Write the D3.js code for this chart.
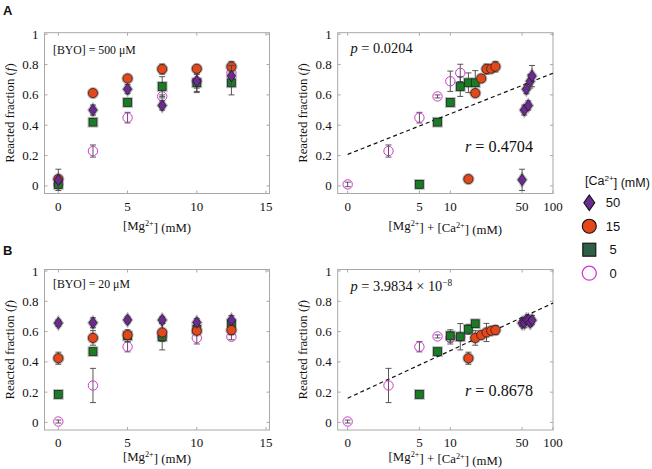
<html>
<head>
<script src="https://d3js.org/d3.v7.min.js"></script>
<style>
  body { margin: 0; background: #fff; }
  text { font-family: "Liberation Serif", "Times New Roman", serif; fill: #111; }
  .sans { font-family: "Liberation Sans", Arial, sans-serif; }
</style>
</head>
<body>
<svg id="MAINSVG" width="652" height="469" viewBox="0 0 652 469"></svg>
<script>
// ---- data ----
var mg = [0, 2.5, 5, 7.5, 10, 12.5];          // [Mg2+] (mM)
var caLevels = [0, 5, 15, 50];                // [Ca2+] (mM), draw order

// panel A, [BYO] = 500 uM : reacted fraction and error
var fA_ca0  = [0.01, 0.23, 0.45, 0.59, 0.69, 0.745];
var eA_ca0  = [0.015, 0.04, 0.035, 0.01, 0.067, 0.057];
var fA_ca5  = [0.01, 0.42, 0.55, 0.655, 0.68, 0.68];
var eA_ca5  = [0.025, 0.02, 0.015, 0.065, 0.065, 0.08];
var fA_ca15 = [0.045, 0.612, 0.708, 0.77, 0.772, 0.786];
var eA_ca15 = [0.012, 0.02, 0.01, 0.033, 0.02, 0.035];
var fA_ca50 = [0.04, 0.50, 0.638, 0.53, 0.69, 0.724];
var eA_ca50 = [0.07, 0.033, 0.03, 0.03, 0.045, 0.07];

// panel B, [BYO] = 20 uM
var fB_ca0  = [0.006, 0.244, 0.50, 0.568, 0.558, 0.566];
var eB_ca0  = [0.01, 0.113, 0.034, 0.01, 0.04, 0.02];
var fB_ca5  = [0.185, 0.468, 0.572, 0.566, 0.615, 0.652];
var eB_ca5  = [0.02, 0.012, 0.04, 0.087, 0.033, 0.02];
var fB_ca15 = [0.424, 0.558, 0.577, 0.594, 0.605, 0.61];
var eB_ca15 = [0.04, 0.048, 0.02, 0.06, 0.02, 0.03];
var fB_ca50 = [0.656, 0.658, 0.677, 0.676, 0.66, 0.675];
var eB_ca50 = [0.02, 0.033, 0.02, 0.02, 0.025, 0.03];

// dashed fit lines on the right panels (x from "0" to 100)
var fitX  = [0, 100];
var fitA  = [0.208, 0.743];
var fitB  = [0.160, 0.788];

var yTicks = [0, 0.2, 0.4, 0.6, 0.8, 1];
var xTicksLin = [0, 5, 10, 15];
var xTicksLog = [0, 5, 10, 50, 100];

var seriesStyle = {
  0:  {shape: "open",    fill: "none",    stroke: "#d236d2", legendFill: "none"},
  5:  {shape: "square",  fill: "#1d7a25", stroke: "#10301a", legendFill: "#2f5f45"},
  15: {shape: "circle",  fill: "#e2481c", stroke: "#3a1a10", legendFill: "#e2481c"},
  50: {shape: "diamond", fill: "#6a2c8e", stroke: "#2a1438", legendFill: "#6a2c8e"}
};
var markerSize = {open: 4.7, square: 3.9, circle: 4.6, diamond: 4.6};

var SVG = d3.select("#MAINSVG");

var rows = [
  {label: "A", labelY: 15, y0: 32.7, y1: 193.5, xlabY: 230, byo: "[BYO] = 500 \u03bcM", byoY: 54,
   f: {0: fA_ca0, 5: fA_ca5, 15: fA_ca15, 50: fA_ca50},
   e: {0: eA_ca0, 5: eA_ca5, 15: eA_ca15, 50: eA_ca50},
   fit: fitA, pY: 53, rY: 152, p: ["0.0204", null], r: "0.4704"},
  {label: "B", labelY: 255, y0: 269.5, y1: 430, xlabY: 461, byo: "[BYO] = 20 \u03bcM", byoY: 288,
   f: {0: fB_ca0, 5: fB_ca5, 15: fB_ca15, 50: fB_ca50},
   e: {0: eB_ca0, 5: eB_ca5, 15: eB_ca15, 50: eB_ca50},
   fit: fitB, pY: 291, rY: 396, p: ["3.9834 \u00d7 10", "\u22128"], r: "0.8678"}
];

// zero has no place on a log axis, it sits at 1
function logX(v) { return v === 0 ? 1 : v; }

function marker(g, shape, cx, cy, fill, stroke, s, halo) {
  var el;
  if (shape === "circle" || shape === "open") {
    el = g.append("circle").attr("cx", cx).attr("cy", cy).attr("r", s);
  } else if (shape === "square") {
    el = g.append("rect").attr("x", cx - s).attr("y", cy - s).attr("width", 2 * s).attr("height", 2 * s);
  } else {
    var w = s * 0.88, h = s * 1.25;
    el = g.append("path").attr("d", "M" + cx + "," + (cy - h) + "L" + (cx + w) + "," + cy +
      "L" + cx + "," + (cy + h) + "L" + (cx - w) + "," + cy + "Z");
  }
  if (shape === "open") {
    el.attr("fill", "none").attr("stroke", stroke).attr("stroke-width", 1);
  } else {
    el.attr("fill", fill).attr("stroke", stroke).attr("stroke-width", 0.8);
    if (halo) el.clone(false).lower().attr("stroke", "#bbb").attr("stroke-width", 3).attr("fill", "#bbb");
  }
  return el;
}

function superLabel(t, pre, sup, post) {
  t.append("tspan").text(pre);
  t.append("tspan").attr("font-size", "0.65em").attr("dy", "-0.45em").text(sup);
  t.append("tspan").attr("dy", "0.45em").text(post);
}

function drawPanel(row, isLog) {
  var x0 = isLog ? 337.7 : 44.5, x1 = isLog ? 553 : 269.5;
  var x = isLog ? d3.scaleLog().domain([0.8, 100]).range([x0, x1])
                : d3.scaleLinear().domain([-1, 15.25]).range([x0, x1]);
  var y = d3.scaleLinear().domain([-0.05, 1.01]).range([row.y1, row.y0]);
  var px = function (v) { return isLog ? x(logX(v)) : x(v); };
  var g = SVG.append("g");

  // frame and inward ticks on all four sides
  g.append("rect").attr("x", x0).attr("y", row.y0).attr("width", x1 - x0).attr("height", row.y1 - row.y0)
    .attr("fill", "none").attr("stroke", "#a8a8a8").attr("stroke-width", 1);
  var xt = isLog ? xTicksLog : xTicksLin;
  xt.forEach(function (v) {
    var xx = px(v);
    g.append("line").attr("x1", xx).attr("x2", xx).attr("y1", row.y1).attr("y2", row.y1 - 3).attr("stroke", "#a8a8a8");
    g.append("line").attr("x1", xx).attr("x2", xx).attr("y1", row.y0).attr("y2", row.y0 + 3).attr("stroke", "#a8a8a8");
    g.append("text").attr("x", xx).attr("y", row.y1 + 17).attr("text-anchor", "middle")
      .attr("font-size", 13).text(String(v));
  });
  yTicks.forEach(function (v) {
    var yy = y(v);
    g.append("line").attr("x1", x0).attr("x2", x0 + 3).attr("y1", yy).attr("y2", yy).attr("stroke", "#a8a8a8");
    g.append("line").attr("x1", x1).attr("x2", x1 - 3).attr("y1", yy).attr("y2", yy).attr("stroke", "#a8a8a8");
    g.append("text").attr("x", x0 - 6).attr("y", yy).attr("dy", "0.35em").attr("text-anchor", "end")
      .attr("font-size", 13).text(String(v));
  });

  // axis titles
  var yl = g.append("text").attr("transform", "translate(" + (x0 - 31) + "," + ((row.y0 + row.y1) / 2) + ") rotate(-90)")
    .attr("text-anchor", "middle").attr("font-size", 12.8);
  yl.append("tspan").text("Reacted fraction (");
  yl.append("tspan").attr("font-style", "italic").text("f");
  yl.append("tspan").text(")");

  var xl = g.append("text").attr("x", (x0 + x1) / 2).attr("y", row.xlabY).attr("text-anchor", "middle").attr("font-size", 12.8);
  if (isLog) {
    xl.append("tspan").text("[Mg");
    xl.append("tspan").attr("font-size", "0.65em").attr("dy", "-0.45em").text("2+");
    xl.append("tspan").attr("dy", "0.45em").text("] + [Ca");
    xl.append("tspan").attr("font-size", "0.65em").attr("dy", "-0.45em").text("2+");
    xl.append("tspan").attr("dy", "0.45em").text("] (mM)");
  } else {
    superLabel(xl, "[Mg", "2+", "] (mM)");
  }

  // fit line
  if (isLog) {
    var line = d3.line().x(function (d) { return px(d[0]); }).y(function (d) { return y(d[1]); });
    g.append("path").datum(d3.zip(fitX, row.fit)).attr("d", line)
      .attr("fill", "none").attr("stroke", "#111").attr("stroke-width", 1.2).attr("stroke-dasharray", "4,3");
  }

  // data: error bars then markers, series by series
  caLevels.forEach(function (ca) {
    var st = seriesStyle[ca];
    var f = row.f[ca], e = row.e[ca];
    mg.forEach(function (m, i) {
      var xx = px(isLog ? m + ca : m);
      var yTop = y(f[i] + e[i]), yBot = y(f[i] - e[i]);
      g.append("line").attr("x1", xx).attr("x2", xx).attr("y1", yTop).attr("y2", yBot).attr("stroke", "#444").attr("stroke-width", 0.9);
      [yTop, yBot].forEach(function (yy) {
        g.append("line").attr("x1", xx - 3).attr("x2", xx + 3).attr("y1", yy).attr("y2", yy).attr("stroke", "#444").attr("stroke-width", 0.9);
      });
      marker(g, st.shape, xx, y(f[i]), st.fill, st.stroke, markerSize[st.shape], true);
    });
  });

  // annotations
  if (!isLog) {
    g.append("text").attr("x", 53).attr("y", row.byoY).attr("font-size", 11.8).text(row.byo);
  } else {
    var pt = g.append("text").attr("x", 350.5).attr("y", row.pY).attr("font-size", 14.4);
    pt.append("tspan").attr("font-style", "italic").text("p");
    pt.append("tspan").text(" = " + row.p[0]);
    if (row.p[1]) pt.append("tspan").attr("font-size", "0.65em").attr("dy", "-0.55em").text(row.p[1]);
    var rt = g.append("text").attr("x", 465).attr("y", row.rY).attr("font-size", 16.2);
    rt.append("tspan").attr("font-style", "italic").text("r");
    rt.append("tspan").text(" = " + row.r);
  }
}

rows.forEach(function (row) {
  SVG.append("text").attr("class", "sans").attr("x", 3).attr("y", row.labelY)
    .attr("font-size", 13).attr("font-weight", "bold").text(row.label);
  drawPanel(row, false);
  drawPanel(row, true);
});

// legend
var legendItems = [50, 15, 5, 0];
var leg = SVG.append("g");
var lt = leg.append("text").attr("class", "sans").attr("x", 585).attr("y", 185).attr("font-size", 12.5);
superLabel(lt, "[Ca", "2+", "] (mM)");
legendItems.forEach(function (ca, i) {
  var st = seriesStyle[ca];
  var cy = 202.7 + i * 23.5;
  var s = st.shape === "square" ? 6.5 : (st.shape === "diamond" ? 6.2 : 7);
  var m = marker(leg, st.shape, 589.3, cy, st.legendFill, st.shape === "open" ? st.stroke : "#111", s, false);
  if (st.shape === "open") m.attr("stroke-width", 1.3);
  else m.attr("stroke-width", 1.1);
  leg.append("text").attr("class", "sans").attr("x", 613).attr("y", cy).attr("dy", "0.36em")
    .attr("text-anchor", "middle").attr("font-size", 13).text(String(ca));
});
</script>
</body>
</html>
